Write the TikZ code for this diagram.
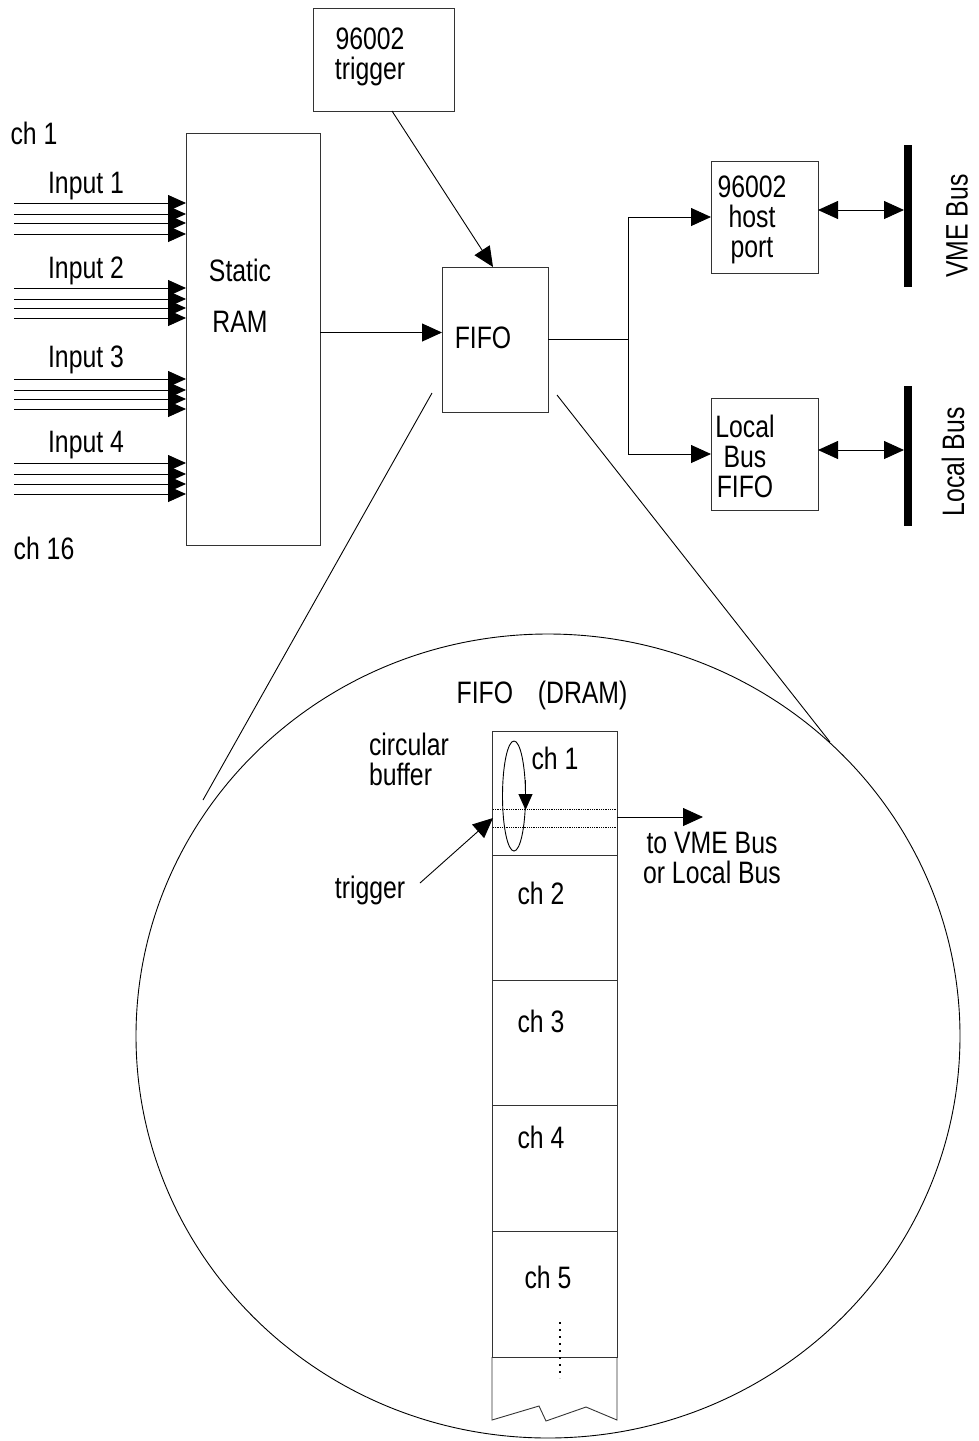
\documentclass[tikz,border=0pt]{standalone}
\usepackage{fontspec}
\setmainfont{Liberation Sans}[FakeStretch=0.8]
\usetikzlibrary{arrows.meta,calc}
\begin{document}
\begin{tikzpicture}[x=1pt,y=-1pt,
  line width=0.9pt,
  box/.style={draw=black!80, inner sep=0pt, outer sep=0pt},
  bar/.style={fill=black, inner sep=0pt, outer sep=0pt, minimum width=8pt},
  arr/.style={-{Triangle[length=20pt,width=18pt]}},
  biarr/.style={{Triangle[length=20pt,width=18pt]}-{Triangle[length=20pt,width=18pt]}},
  inarr/.style={-{Triangle[length=18pt,width=16pt]}},
  txt/.style={inner sep=0pt, font=\fontsize{31}{30}\selectfont},
]
\useasboundingbox (0,0) rectangle (978,1441);
\clip (0,0) rectangle (978,1441);

% top boxes
\node[box, minimum width=141pt, minimum height=103pt] (trig) at (383.5,59.5) {};
\node[txt, align=center] (trigt) at (370,57) {96002\\trigger};
\node[box, minimum width=134pt, minimum height=412pt] (ram) at (253,339) {};
\node[txt] (ramt1) at (240,270) {Static};
\node[txt] (ramt2) at (240,322) {RAM};
\node[box, minimum width=106pt, minimum height=145pt] (fifo) at (495,339.5) {};
\node[txt] (fifot) at (483,338) {FIFO};
\node[box, minimum width=107pt, minimum height=112pt] (host) at (764.5,217) {};
\node[txt, align=center] (hostt) at (752,220) {96002\\host\\port};
\node[box, minimum width=107pt, minimum height=112pt] (local) at (764.5,454) {};
\node[txt, align=center] (localt) at (745,456) {Local\\Bus\\FIFO};
\node[bar, minimum height=142pt] (vme) at (908,216) {};
\node[bar, minimum height=140pt] (lbus) at (908,456) {};
\node[txt, rotate=90] (vmet) at (957,226) {VME Bus};
\node[txt, rotate=90] (lbust) at (953,462) {Local Bus};

% inputs
\node[txt] (ch1) at (34,133) {ch 1};
\node[txt] (ch16) at (44,548) {ch 16};
\node[txt] (in1) at (86,186) {Input 1};
\node[txt] (in2) at (86,271) {Input 2};
\node[txt] (in3) at (86,360) {Input 3};
\node[txt] (in4) at (86,445) {Input 4};
\foreach \y in {203,214,223,234, 288,299,308,318, 379,390,399,409, 463,474,484,494}{
  \coordinate (s\y) at (14,\y);
  \draw[inarr] (s\y) -- (s\y -| ram.west);
}

% connectors
\draw[arr] ([yshift=7pt]fifo.west -| ram.east) -- ([yshift=7pt]fifo.west);
\draw[arr] ([xshift=8.5pt]trig.south) -- ([xshift=-2pt]fifo.north);
\coordinate (j) at (628,339.5);
\draw (fifo.east) -- (j);
\draw[arr] (j) |- (host.west);
\draw[arr] (j) |- (local.west);
\draw[biarr] ([yshift=7pt]host.east) -- ([yshift=7pt]host.east -| vme.west);
\draw[biarr] ([yshift=4pt]local.east) -- ([yshift=4pt]local.east -| lbus.west);

% zoom lines and circle
\coordinate (zl1) at (432,393);
\coordinate (zl2) at (203,800);
\coordinate (zr1) at (557,395);
\coordinate (zr2) at (830,742);
\draw (zl1) -- (zl2);
\draw (zr1) -- (zr2);
\draw (548,1036) ellipse [x radius=412, y radius=402];

% DRAM column
\node[txt] (dramt) at (542,695) {FIFO\hspace{0.8em}(DRAM)};
\node[box, minimum width=125pt, minimum height=124pt] (c1) at (554.5,793) {};
\node[box, minimum width=125pt, minimum height=125pt] (c2) at (554.5,917.5) {};
\node[box, minimum width=125pt, minimum height=125pt] (c3) at (554.5,1042.5) {};
\node[box, minimum width=125pt, minimum height=126pt] (c4) at (554.5,1168) {};
\node[box, minimum width=125pt, minimum height=126pt] (c5) at (554.5,1294) {};
\draw[black!80] (c5.south west) -- (492,1420) -- (539,1406) -- (546,1421) -- (586,1407) -- (617,1420) -- (c5.south east);
\node[txt] (c1t) at (555,758) {ch 1};
\node[txt] (c2t) at (541,893) {ch 2};
\node[txt] (c3t) at (541,1021) {ch 3};
\node[txt] (c4t) at (541,1137) {ch 4};
\node[txt] (c5t) at (548,1277) {ch 5};
\draw[line width=2pt, dash pattern=on 2pt off 5pt] (560,1322) -- (560,1378);

% circular buffer
\draw[densely dotted, line width=0.8pt] (493,809) -- (617,809);
\draw[densely dotted, line width=0.8pt] (493,827) -- (617,827);
\draw (514,796) ellipse [x radius=11.5, y radius=55];
\draw[-{Triangle[length=16pt,width=14pt]}] (525.5,780) -- (525.5,810);
\node[txt, align=left] (cbuf) at (409,759) {circular\\buffer};
\node[txt] (trigl) at (370,890) {trigger};
\coordinate (ta) at (420,883);
\draw[arr] (ta) -- (493,818);
\coordinate (oa) at (703,817);
\draw[arr] (617,817) -- (oa);
\node[txt, align=center] (outt) at (712,858) {to VME Bus\\or Local Bus};
\end{tikzpicture}
\end{document}
